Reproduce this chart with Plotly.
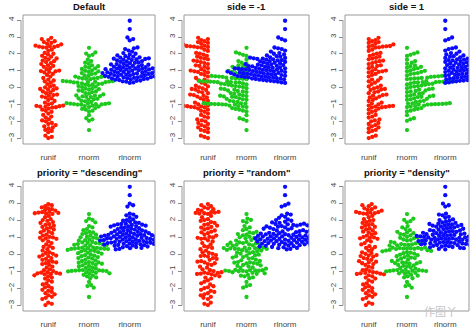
import numpy as np
import plotly.graph_objects as go

groups = ["runif", "rnorm", "rlnorm"]
colors = ["#FF1A00", "#1DC91D", "#0A0AFF"]

runif_vals = [-2.97, -2.90, -2.83, -2.62, -2.55, -2.49, -2.40, -2.34, -2.28,
              -2.20, -2.14, -2.08, -1.98, -1.93, -1.87, -1.76, -1.70, -1.60, -1.52,
              -1.42, -1.36, -1.29, -1.23, -1.17, -1.15, -1.13, -1.11, -1.09, -1.07, -1.05,
              -0.98, -0.93, -0.88, -0.78, -0.72, -0.62, -0.57, -0.52, -0.47, -0.43, -0.40,
              -0.32, -0.27, -0.22, -0.13, -0.10, -0.07, -0.04, 0.03, 0.08, 0.12,
              0.22, 0.30, 0.38, 0.43, 0.48, 0.58, 0.66, 0.76, 0.82,
              0.91, 0.94, 0.97, 0.99, 1.02, 1.10, 1.16, 1.24, 1.29, 1.33, 1.40, 1.46,
              1.52, 1.57, 1.61, 1.68, 1.73, 1.77, 1.84, 1.89, 1.96, 2.01, 2.06, 2.18, 2.25,
              2.37, 2.39, 2.41, 2.43, 2.45, 2.47, 2.49, 2.56, 2.60, 2.65, 2.70, 2.75,
              2.82, 2.88, 2.95]

rnorm_vals = [2.36, 2.02, 2.09, 1.88, 1.95, 1.58, 1.66, 1.42, 1.48, 1.24, 1.28, 1.32,
              1.11, 1.15, 1.19, 0.94, 0.97, 1.00, 1.03, 0.81, 0.84, 0.87,
              0.64, 0.66, 0.68, 0.70, 0.73, 0.51, 0.53, 0.55, 0.56, 0.58, 0.60,
              0.31, 0.32, 0.33, 0.34, 0.35, 0.36, 0.37, 0.38, 0.39, 0.40,
              0.18, 0.20, 0.22, 0.24, 0.26, 0.04, 0.07, 0.10, 0.13,
              -0.02, -0.05, -0.08, -0.11, -0.16, -0.19, -0.22, -0.25, -0.31, -0.35, -0.39,
              -0.45, -0.47, -0.49, -0.51, -0.53, -0.55, -0.62, -0.65, -0.68, -0.71,
              -0.77, -0.80, -0.84, -0.91, -0.92, -0.93, -0.94, -0.95, -0.96, -0.97, -0.98,
              -0.99, -1.00, -1.05, -1.08, -1.11, -1.14, -1.20, -1.25, -1.29, -1.35, -1.40,
              -1.62, -1.80, -1.86, -1.95, -2.50]

rlnorm_vals = [3.96, 3.47, 2.97, 2.88, 2.80, 2.38, 2.33, 2.29, 2.20, 2.14,
               2.05, 2.01, 1.97, 1.91, 1.87, 1.84, 1.80,
               1.78, 1.76, 1.74, 1.72, 1.70, 1.68, 1.66, 1.64, 1.62,
               1.58, 1.56, 1.53, 1.50, 1.48, 1.45,
               1.42, 1.40, 1.38, 1.36, 1.34, 1.32, 1.30,
               1.28, 1.26, 1.24, 1.22, 1.20, 1.18, 1.17, 1.15,
               1.14, 1.13, 1.12, 1.10, 1.09, 1.08, 1.06, 1.05, 1.04, 1.02,
               1.00, 0.99, 0.97, 0.96, 0.94, 0.93, 0.91, 0.90, 0.88,
               0.87, 0.86, 0.85, 0.83, 0.82, 0.81, 0.79, 0.78, 0.77, 0.75,
               0.74, 0.72, 0.71, 0.69, 0.68, 0.66, 0.65, 0.63, 0.62,
               0.61, 0.59, 0.57, 0.55, 0.54, 0.52, 0.50,
               0.48, 0.46, 0.43, 0.41, 0.38, 0.36, 0.32, 0.29]

titles = ["Default", "side = -1", "side = 1",
          'priority = "descending"', 'priority = "random"', 'priority = "density"']
sides = [0, -1, 1, 0, 0, 0]
priorities = ["ascending", "ascending", "ascending", "descending", "random", "density"]
y_ticks = [-3, -2, -1, 0, 1, 2, 3, 4]

W, H = 474, 330
col_px = [(23, 155), (184, 309), (345, 469)]
row_px = [(15, 144), (181, 311)]
XR = [0.38, 3.62]
YR = [-3.32, 4.30]
SPACING_PX = 3.7


def order_for(x, priority):
    n = len(x)
    if priority == "ascending":
        return np.argsort(x, kind="stable")
    if priority == "descending":
        return np.argsort(-x, kind="stable")
    if priority == "random":
        return np.argsort((np.arange(n) * 61 + 17) % n, kind="stable")
    # density (R: density() + findInterval)
    sd = np.std(x, ddof=1)
    q75, q25 = np.percentile(x, [75, 25])
    lo = min(sd, (q75 - q25) / 1.34)
    bw = 0.9 * lo * n ** -0.2
    grid = np.linspace(x.min() - 3 * bw, x.max() + 3 * bw, 512)
    dens = np.exp(-0.5 * ((grid[:, None] - x[None, :]) / bw) ** 2).sum(1)
    k = np.clip(np.searchsorted(grid, x, side="right") - 1, 0, 511)
    return np.argsort(-dens[k], kind="stable")


def swarm(vals, dsize, gsize, side=0, priority="ascending"):
    x = np.asarray(vals, float) / dsize
    n = len(x)
    order = order_for(x, priority)
    xs = x[order]
    ys = np.zeros(n)
    for ii in range(1, n):
        xi = xs[ii]
        pre = np.abs(xi - xs[:ii]) < 1
        if pre.any():
            px = xs[:ii][pre]
            py = ys[:ii][pre]
            off = np.sqrt(1 - (xi - px) ** 2)
            if side == -1:
                pot = np.concatenate([[0.0], py - off])
            elif side == 1:
                pot = np.concatenate([[0.0], py + off])
            else:
                pot = np.concatenate([[0.0], py + off, py - off])
            bad = np.array([np.any((xi - px) ** 2 + (y - py) ** 2 < 0.999) for y in pot])
            pot[bad] = np.inf
            ys[ii] = pot[np.argmin(np.abs(pot))]
    out = np.empty(n)
    out[order] = ys
    return out * gsize


data = [runif_vals, rnorm_vals, rlnorm_vals]
fig = go.Figure()
layout = dict(width=W, height=H, margin=dict(l=0, r=0, t=0, b=0),
              paper_bgcolor="white", plot_bgcolor="white", showlegend=False,
              font=dict(family="Liberation Sans, Arial", color="#333"))
shapes = []
annotations = []

for p in range(6):
    r, c = divmod(p, 3)
    l_px, r_px = col_px[c]
    t_px, b_px = row_px[r]
    sfx = "" if p == 0 else str(p + 1)
    xa, ya = "x" + sfx, "y" + sfx
    gsize = SPACING_PX * (XR[1] - XR[0]) / (r_px - l_px)
    dsize = SPACING_PX * (YR[1] - YR[0]) / (b_px - t_px)
    for g in range(3):
        offs = swarm(data[g], dsize, gsize, side=sides[p], priority=priorities[p])
        fig.add_trace(go.Scatter(
            x=(g + 1) + offs, y=data[g], mode="markers", xaxis=xa, yaxis=ya,
            marker=dict(color=colors[g], size=4.3, line=dict(width=0)),
            hoverinfo="skip"))
    layout["xaxis" + sfx] = dict(
        domain=[l_px / W, r_px / W], range=XR, anchor=ya,
        tickvals=[1, 2, 3], ticktext=groups, ticks="outside", ticklen=5,
        tickcolor="rgba(0,0,0,0)", showgrid=False, zeroline=False, showline=False,
        tickfont=dict(size=8, color="#444"), fixedrange=True)
    layout["yaxis" + sfx] = dict(
        domain=[1 - b_px / H, 1 - t_px / H], range=YR, anchor="free",
        position=(l_px - 2) / W, tickvals=y_ticks, ticks="outside", ticklen=4,
        tickcolor="#888", tickwidth=1, tickangle=-90, showgrid=False,
        zeroline=False, showline=False, tickfont=dict(size=8, color="#444"),
        fixedrange=True)
    xd = ("x" if p == 0 else "x" + str(p + 1)) + " domain"
    yd = ("y" if p == 0 else "y" + str(p + 1)) + " domain"
    shapes.append(dict(type="rect", xref=xd, yref=yd, x0=0, x1=1, y0=0, y1=1,
                       line=dict(color="#9a9a9a", width=1)))
    shapes.append(dict(type="line", xref=xd, yref=ya, x0=-2 / (r_px - l_px),
                       x1=-2 / (r_px - l_px), y0=y_ticks[0], y1=y_ticks[-1],
                       line=dict(color="#9a9a9a", width=1)))
    annotations.append(dict(text="<b>" + titles[p] + "</b>", xref="paper", yref="paper",
                            x=(l_px + r_px) / 2 / W, y=1 - (t_px - 9) / H,
                            xanchor="center", yanchor="middle", showarrow=False,
                            font=dict(size=9.5, color="#111")))

annotations.append(dict(text="作图丫", xref="paper", yref="paper", x=440 / W, y=1 - 311 / H,
                        xanchor="center", yanchor="middle", showarrow=False,
                        font=dict(size=11, color="#c4c4c4", family="Noto Sans CJK SC")))
layout["shapes"] = shapes
layout["annotations"] = annotations
fig.update_layout(**layout)
fig.write_html("out.html")
